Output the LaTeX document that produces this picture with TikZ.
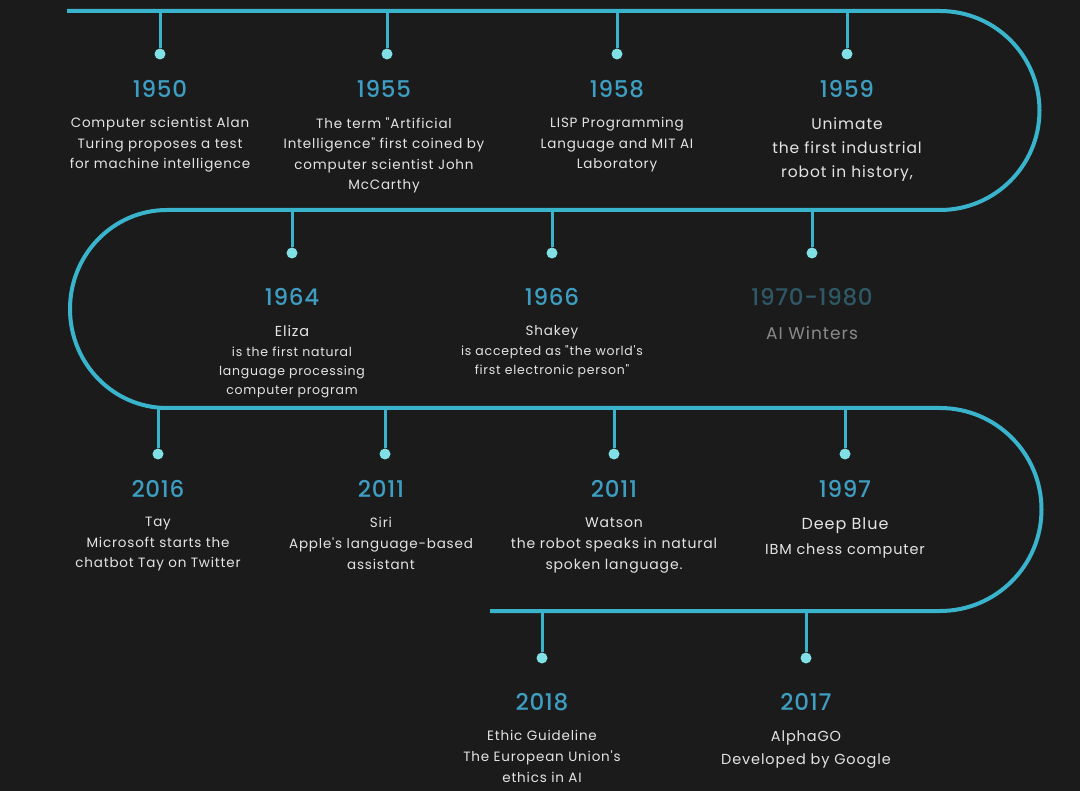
\documentclass[tikz,border=0pt]{standalone}
\usepackage{fontspec}
\setmainfont{Poppins}[LetterSpace=6, Ligatures=TeXOff]
\newfontfamily\yearfont{Poppins Medium}[LetterSpace=3]
\usetikzlibrary{positioning}

\definecolor{bgdark}{HTML}{1C1B1B}
\definecolor{routeblue}{HTML}{3AB4CC}
\definecolor{dotcyan}{HTML}{80E0E6}
\definecolor{yearblue}{HTML}{3D9EC2}
\definecolor{paletext}{HTML}{E4E4E4}
\definecolor{winteryear}{HTML}{2F5866}
\definecolor{wintertext}{HTML}{8A8A8A}

\tikzset{
  route/.style={line width=4pt, color=routeblue},
  tick/.style={line width=3pt, color=routeblue},
  dot/.style={circle, fill=dotcyan, inner sep=0pt, minimum size=11pt},
  year/.style={inner sep=0pt, text=yearblue, font=\yearfont\fontsize{23}{23}\selectfont},
  desc/.style={inner sep=0pt, align=center, text=paletext, font=\fontsize{13.5}{20.5}\selectfont}
}

\begin{document}
\begin{tikzpicture}[x=1pt, y=-1pt]
%background
\fill[bgdark] (0,0) rectangle (1080,791);

%winding road
\draw[route] (67,11) -- (940,11) arc[start angle=90, end angle=-90, radius=99.5pt]
  -- (167,210) arc[start angle=90, end angle=270, x radius=97pt, y radius=99pt]
  -- (940,408) arc[start angle=90, end angle=-90, radius=101.5pt]
  -- (490,611);

%ticks and dots
\foreach \x/\n in {160/a, 387/b, 617/c, 847/d} {
  \coordinate (t\n) at (\x,11);
  \node[dot] (d\n) at (\x,54) {};
  \draw[tick] (t\n) -- (d\n);
}
\foreach \x/\n in {292/e, 552/f, 812/g} {
  \coordinate (t\n) at (\x,210);
  \node[dot] (d\n) at (\x,253) {};
  \draw[tick] (t\n) -- (d\n);
}
\foreach \x/\n in {158/h, 385/i, 614/j, 845/k} {
  \coordinate (t\n) at (\x,408);
  \node[dot] (d\n) at (\x,454) {};
  \draw[tick] (t\n) -- (d\n);
}
\foreach \x/\n in {542/l, 806/m} {
  \coordinate (t\n) at (\x,611);
  \node[dot] (d\n) at (\x,658) {};
  \draw[tick] (t\n) -- (d\n);
}

%first row
\node[year] (ya) at (160,89) {1950};
\node[desc, below=19.5pt of ya] {Computer scientist Alan\\Turing proposes a test\\for machine intelligence};
\node[year] (yb) at (384,89) {1955};
\node[desc, below=19.5pt of yb] {The term "Artificial\\Intelligence" first coined by\\computer scientist John\\McCarthy};
\node[year] (yc) at (617,89) {1958};
\node[desc, below=19.5pt of yc] {LISP Programming\\Language and MIT AI\\Laboratory};
\node[year] (yd) at (847,89) {1959};
\node[desc, below=19.5pt of yd, font=\fontsize{15.5}{24}\selectfont] {Unimate\\the first industrial\\robot in history,};

%second row
\node[year] (ye) at (292,297) {1964};
\node[desc, below=19.5pt of ye, font=\fontsize{12.5}{19}\selectfont] {{\fontsize{14.5}{19}\selectfont Eliza}\\[1pt]is the first natural\\language processing\\computer program};
\node[year] (yf) at (552,297) {1966};
\node[desc, below=19.5pt of yf, font=\fontsize{12.5}{19}\selectfont] {{\fontsize{13.5}{19}\selectfont Shakey}\\[1pt]is accepted as "the world's\\first electronic person"};
\node[year, text=winteryear] (yg) at (812,297) {1970-1980};
\node[desc, below=20pt of yg, text=wintertext, font=\fontsize{17}{20}\selectfont] {AI Winters};

%third row
\node[year] (yh) at (158,489) {2016};
\node[desc, below=19.5pt of yh] {Tay\\Microsoft starts the\\chatbot Tay on Twitter};
\node[year] (yi) at (381,489) {2011};
\node[desc, below=19.5pt of yi, font=\fontsize{13.5}{21}\selectfont] {Siri\\Apple's language-based\\assistant};
\node[year] (yj) at (614,489) {2011};
\node[desc, below=19.5pt of yj, font=\fontsize{14}{21}\selectfont] {Watson\\the robot speaks in natural\\spoken language.};
\node[year] (yk) at (845,489) {1997};
\node[desc, below=19.5pt of yk, font=\fontsize{14.5}{25}\selectfont] {{\fontsize{16}{25}\selectfont Deep Blue}\\IBM chess computer};

%fourth row
\node[year] (yl) at (542,702) {2018};
\node[desc, below=19.5pt of yl, font=\fontsize{13.5}{21}\selectfont] {Ethic Guideline\\The European Union's\\ethics in AI};
\node[year] (ym) at (806,702) {2017};
\node[desc, below=19.5pt of ym, font=\fontsize{14.5}{23}\selectfont] {AlphaGO\\Developed by Google};
\end{tikzpicture}
\end{document}
